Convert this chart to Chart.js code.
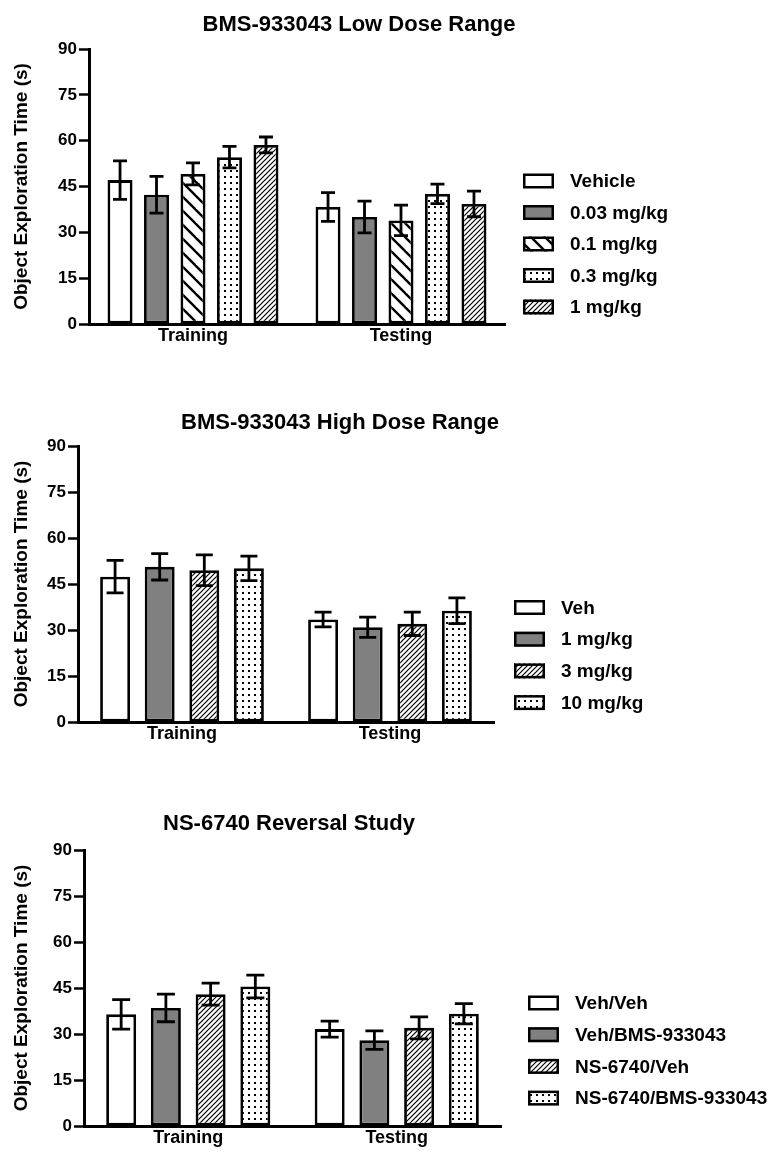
<!DOCTYPE html>
<html>
<head>
<meta charset="utf-8">
<script src="https://cdn.jsdelivr.net/npm/chart.js@4.4.1/dist/chart.umd.min.js"></script>
<style>
  html, body { margin: 0; padding: 0; background: #fff; }
  body { width: 779px; height: 1157px; position: relative; overflow: hidden; }
  canvas { position: absolute; left: 0; }
</style>
</head>
<body>
<canvas id="lowChart" width="779" height="359" style="top:0px"></canvas>
<canvas id="highChart" width="779" height="359" style="top:398px"></canvas>
<canvas id="nsChart" width="779" height="363" style="top:798px"></canvas>
<script>
// Object exploration time, three dose studies (mean +/- SEM)

const PHASES = ["Training", "Testing"];
const Y_TICKS = [0, 15, 30, 45, 60, 75, 90];
const Y_TITLE = "Object Exploration Time (s)";

// --- BMS-933043 Low Dose Range ---
const LOW_TITLE = "BMS-933043 Low Dose Range";
const LOW_GROUPS = ["Vehicle", "0.03 mg/kg", "0.1 mg/kg", "0.3 mg/kg", "1 mg/kg"];
const LOW_MEANS = [[47.1, 38.3], [42.3, 35.0], [49.1, 33.9], [54.6, 42.6], [58.6, 39.3]];
const LOW_SEM = [[6.3, 4.7], [6.0, 5.2], [3.6, 5.0], [3.5, 3.2], [2.6, 4.2]];
const LOW_FILLS = ["white", "gray", "back", "dots", "hatch"];

// --- BMS-933043 High Dose Range ---
const HIGH_TITLE = "BMS-933043 High Dose Range";
const HIGH_GROUPS = ["Veh", "1 mg/kg", "3 mg/kg", "10 mg/kg"];
const HIGH_MEANS = [[47.4, 33.4], [50.6, 30.9], [49.5, 32.0], [50.1, 36.3]];
const HIGH_SEM = [[5.3, 2.4], [4.3, 3.3], [5.0, 3.8], [4.0, 4.2]];
const HIGH_FILLS = ["white", "gray", "hatch", "dots"];

// --- NS-6740 Reversal Study ---
const NS_TITLE = "NS-6740 Reversal Study";
const NS_GROUPS = ["Veh/Veh", "Veh/BMS-933043", "NS-6740/Veh", "NS-6740/BMS-933043"];
const NS_MEANS = [[36.4, 31.6], [38.5, 28.0], [43.0, 32.0], [45.5, 36.6]];
const NS_SEM = [[4.8, 2.6], [4.5, 3.0], [3.6, 3.6], [3.7, 3.3]];
const NS_FILLS = ["white", "gray", "hatch", "dots"];

const FONT = "'Liberation Sans', Arial, Helvetica, sans-serif";

// --- Fill patterns ---
function makePattern(kind) {
  if (kind === "white") return "#ffffff";
  if (kind === "gray") return "#808080";
  const size = kind === "back" ? 14 : kind === "hatch" ? 5 : 6;
  const c = document.createElement("canvas");
  c.width = size; c.height = size;
  const g = c.getContext("2d");
  g.fillStyle = "#fff";
  g.fillRect(0, 0, size, size);
  g.strokeStyle = "#000";
  g.fillStyle = "#000";
  if (kind === "dots") {
    g.fillRect(2, 2, 2, 2);
  } else if (kind === "back") {
    g.lineWidth = 2.4;
    [-size, 0, size].forEach(k => {
      g.beginPath(); g.moveTo(k - 1, -1); g.lineTo(k + size + 1, size + 1); g.stroke();
    });
  } else {
    g.lineWidth = 1.2;
    [-size, 0, size].forEach(k => {
      g.beginPath(); g.moveTo(k - 1, size + 1); g.lineTo(k + size + 1, -1); g.stroke();
    });
  }
  return g.createPattern(c, "repeat");
}

// --- Error bars, title and legend ---
const panelDecor = {
  id: "panelDecor",
  afterDatasetsDraw(chart, args, opts) {
    const ctx = chart.ctx;
    const y = chart.scales.y;
    ctx.save();
    ctx.strokeStyle = "#000";
    ctx.lineWidth = 2.8;
    chart.data.datasets.forEach((ds, i) => {
      chart.getDatasetMeta(i).data.forEach((bar, j) => {
        const top = y.getPixelForValue(ds.data[j] + ds.sem[j]);
        const bot = y.getPixelForValue(ds.data[j] - ds.sem[j]);
        ctx.beginPath();
        ctx.moveTo(bar.x, top); ctx.lineTo(bar.x, bot);
        ctx.moveTo(bar.x - opts.cap, top); ctx.lineTo(bar.x + opts.cap, top);
        ctx.moveTo(bar.x - opts.cap, bot); ctx.lineTo(bar.x + opts.cap, bot);
        ctx.stroke();
      });
    });
    ctx.restore();
  },
  afterDraw(chart, args, opts) {
    const ctx = chart.ctx;
    ctx.save();
    ctx.fillStyle = "#000";
    ctx.font = "bold 22px " + FONT;
    ctx.textAlign = "center";
    ctx.textBaseline = "middle";
    ctx.fillText(opts.title, opts.titleX, opts.titleY);

    ctx.font = "bold 19px " + FONT;
    ctx.textAlign = "left";
    chart.data.datasets.forEach((ds, i) => {
      const cy = opts.legendY + i * opts.legendStep;
      ctx.fillStyle = ds.backgroundColor;
      ctx.fillRect(opts.legendX, cy - 7.5, 31, 15);
      ctx.strokeStyle = "#000";
      ctx.lineWidth = 2.5;
      ctx.strokeRect(opts.legendX + 1.25, cy - 6.25, 28.5, 12.5);
      ctx.fillStyle = "#000";
      ctx.fillText(ds.label, opts.legendX + 47, cy + 1);
    });
    ctx.restore();
  }
};

function buildChart(id, groups, means, sem, fills, layout) {
  const datasets = groups.map((name, i) => ({
    label: name,
    data: means[i],
    sem: sem[i],
    backgroundColor: makePattern(fills[i]),
    borderColor: "#000",
    borderWidth: 2.8,
    borderSkipped: false,
    barPercentage: layout.barPct,
    categoryPercentage: layout.catPct,
  }));

  return new Chart(document.getElementById(id), {
    type: "bar",
    data: { labels: PHASES, datasets },
    options: {
      responsive: false,
      animation: false,
      devicePixelRatio: 1,
      events: [],
      layout: { padding: { top: layout.top, right: 779 - layout.right, bottom: 0, left: 0 } },
      plugins: {
        legend: { display: false },
        tooltip: { enabled: false },
        panelDecor: {
          title: layout.title, titleX: layout.titleX, titleY: layout.titleY,
          legendX: layout.legendX, legendY: layout.legendY, legendStep: layout.legendStep,
          cap: layout.cap,
        },
      },
      scales: {
        x: {
          grid: { display: false, drawTicks: false },
          border: { display: true, color: "#000", width: 3 },
          ticks: { color: "#000", padding: 1, font: { family: FONT, size: 18, weight: "bold" } },
          afterFit: s => { s.height = 35; },
        },
        y: {
          min: 0,
          max: 90,
          afterBuildTicks: s => { s.ticks = Y_TICKS.map(v => ({ value: v })); },
          ticks: { color: "#000", padding: 2, font: { family: FONT, size: 17, weight: "bold" } },
          grid: { drawOnChartArea: false, drawTicks: true, tickLength: 10, tickWidth: 2.5, tickColor: "#000" },
          border: { display: true, color: "#000", width: 3 },
          title: {
            display: true, text: Y_TITLE, color: "#000",
            font: { family: FONT, size: 19, weight: "bold" },
            padding: { top: 10, bottom: 0 },
          },
          afterFit: s => { s.width = layout.left; },
        },
      },
    },
    plugins: [panelDecor],
  });
}

buildChart("lowChart", LOW_GROUPS, LOW_MEANS, LOW_SEM, LOW_FILLS, {
  title: LOW_TITLE, titleX: 359, titleY: 25,
  top: 49, left: 89, right: 505,
  barPct: 0.685, catPct: 0.877, cap: 7,
  legendX: 523, legendY: 181, legendStep: 31.5,
});

buildChart("highChart", HIGH_GROUPS, HIGH_MEANS, HIGH_SEM, HIGH_FILLS, {
  title: HIGH_TITLE, titleX: 340, titleY: 25,
  top: 48, left: 78, right: 494,
  barPct: 0.67, catPct: 0.858, cap: 8.5,
  legendX: 514, legendY: 209.5, legendStep: 31.7,
});

buildChart("nsChart", NS_GROUPS, NS_MEANS, NS_SEM, NS_FILLS, {
  title: NS_TITLE, titleX: 289, titleY: 26,
  top: 52, left: 84, right: 501,
  barPct: 0.67, catPct: 0.858, cap: 9,
  legendX: 528, legendY: 205, legendStep: 31.7,
});
</script>
</body>
</html>
